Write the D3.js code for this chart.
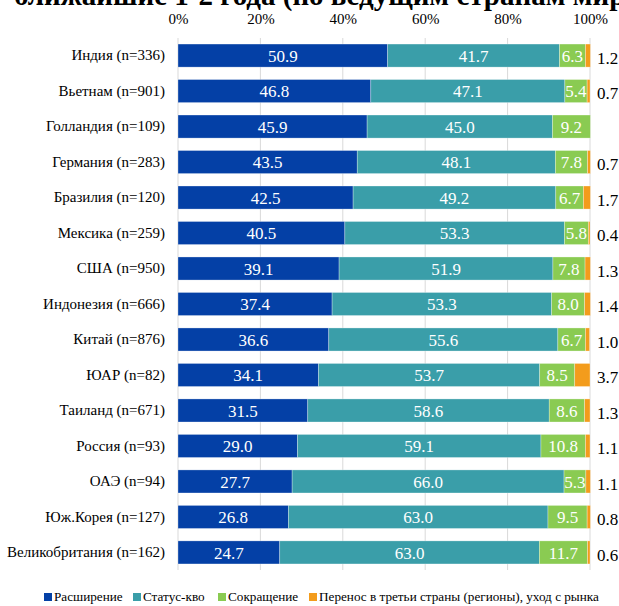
<!DOCTYPE html>
<html>
<head>
<meta charset="utf-8">
<script src="https://cdn.jsdelivr.net/npm/d3@7"></script>
<style>
  body { margin: 0; background: #fff; }
  svg { display: block; }
  svg text { font-family: "Liberation Serif", "Times New Roman", "DejaVu Serif", serif; }
</style>
</head>
<body>
<svg id="chart" width="619" height="606"></svg>
<script>
// data
var countries = ["Индия (n=336)", "Вьетнам (n=901)", "Голландия (n=109)", "Германия (n=283)",
    "Бразилия (n=120)", "Мексика (n=259)", "США (n=950)", "Индонезия (n=666)", "Китай (n=876)",
    "ЮАР (n=82)", "Таиланд (n=671)", "Россия (n=93)", "ОАЭ (n=94)", "Юж.Корея (n=127)",
    "Великобритания (n=162)"];
var expansion = [50.9, 46.8, 45.9, 43.5, 42.5, 40.5, 39.1, 37.4, 36.6, 34.1, 31.5, 29.0, 27.7, 26.8, 24.7];
var statusQuo = [41.7, 47.1, 45.0, 48.1, 49.2, 53.3, 51.9, 53.3, 55.6, 53.7, 58.6, 59.1, 66.0, 63.0, 63.0];
var reduction = [6.3, 5.4, 9.2, 7.8, 6.7, 5.8, 7.8, 8.0, 6.7, 8.5, 8.6, 10.8, 5.3, 9.5, 11.7];
var relocation = [1.2, 0.7, 0, 0.7, 1.7, 0.4, 1.3, 1.4, 1.0, 3.7, 1.3, 1.1, 1.1, 0.8, 0.6];
var seriesNames = ["Расширение", "Статус-кво", "Сокращение", "Перенос в третьи страны (регионы), уход с рынка"];
var tickValues = [0, 20, 40, 60, 80, 100];
var titleText = "ближайшие 1-2 года (по ведущим странам мира)";

var colors = ["#0440A6", "#3A9EA9", "#8ACB52", "#F39C1C"];
var serif = "'Liberation Serif', 'Times New Roman', 'DejaVu Serif', serif";

var svg = d3.select("#chart"),
    margin = {top: 38, right: 29, bottom: 36, left: 178},
    width = 619 - margin.left - margin.right,
    height = 606 - margin.top - margin.bottom,
    g = svg.append("g").attr("transform", "translate(" + margin.left + "," + margin.top + ")");

var x = d3.scaleLinear().domain([0, 100]).range([0, width]);
var y = d3.scaleBand().domain(countries).range([0, height]).paddingInner(0.35).paddingOuter(0.17);

// title (cut off at the top like the reference)
svg.append("text")
    .attr("x", 14)
    .attr("y", 5)
    .style("font-size", "29px")
    .style("font-weight", "bold")
    .attr("fill", "#000")
    .text(titleText);

// grid
g.selectAll(".grid")
    .data(tickValues)
    .enter().append("line")
    .attr("class", "grid")
    .attr("x1", function(d) { return x(d); })
    .attr("x2", function(d) { return x(d); })
    .attr("y1", 0)
    .attr("y2", height)
    .attr("stroke", "#d9d9d9")
    .attr("stroke-width", 1);

// top axis
var axis = g.append("g")
    .call(d3.axisTop(x).tickValues(tickValues).tickFormat(function(d) { return d + "%"; }).tickSize(0).tickPadding(14));
axis.attr("font-family", null);
axis.select(".domain").remove();
axis.selectAll("text")
    .style("font-family", serif)
    .style("font-size", "15px")
    .attr("fill", "#000");

// left axis
var yAxis = g.append("g")
    .call(d3.axisLeft(y).tickSize(0).tickPadding(13));
yAxis.attr("font-family", null);
yAxis.select(".domain").remove();
yAxis.selectAll("text")
    .style("font-family", serif)
    .style("font-size", "15px")
    .attr("fill", "#000");

// stacked bars
var rows = countries.map(function(c, i) {
    return {country: c, s0: expansion[i], s1: statusQuo[i], s2: reduction[i], s3: relocation[i]};
});
var stack = d3.stack().keys(["s0", "s1", "s2", "s3"]);
var layers = stack(rows);

layers.forEach(function(layer, li) {
    var lg = g.append("g").attr("fill", colors[li]);
    lg.selectAll("rect")
        .data(layer.filter(function(d) { return d[1] - d[0] > 0; }))
        .enter().append("rect")
        .attr("x", function(d) { return x(d[0]); })
        .attr("y", function(d) { return y(d.data.country); })
        .attr("width", function(d) { return x(d[1]) - x(d[0]); })
        .attr("height", y.bandwidth())
        .attr("stroke", "rgba(255,255,255,0.5)")
        .attr("stroke-width", 0.6);

    if (li < 3) {
        lg.selectAll("text")
            .data(layer)
            .enter().append("text")
            .attr("x", function(d) { return (x(d[0]) + x(d[1])) / 2; })
            .attr("y", function(d) { return y(d.data.country) + y.bandwidth() / 2; })
            .attr("dy", "0.36em")
            .attr("text-anchor", "middle")
            .style("font-size", "17px")
            .attr("fill", "#fff")
            .text(function(d) { return d3.format(".1f")(d[1] - d[0]); });
    } else {
        lg.selectAll("text")
            .data(layer.filter(function(d) { return d[1] - d[0] > 0; }))
            .enter().append("text")
            .attr("x", x(100) + 7)
            .attr("y", function(d) { return y(d.data.country) + y.bandwidth() / 2 + 2; })
            .attr("dy", "0.36em")
            .style("font-size", "17px")
            .attr("fill", "#000")
            .text(function(d) { return d3.format(".1f")(d[1] - d[0]); });
    }
});

// legend
var legendX = [44, 133, 218, 309];
var legend = svg.append("g").attr("transform", "translate(0,600)");
seriesNames.forEach(function(name, i) {
    legend.append("rect")
        .attr("x", legendX[i])
        .attr("y", -7)
        .attr("width", 8)
        .attr("height", 8)
        .attr("fill", colors[i]);
    legend.append("text")
        .attr("x", legendX[i] + 10)
        .attr("y", 0)
        .attr("dy", "0.05em")
        .style("font-size", "13.2px")
        .attr("fill", "#000")
        .text(name);
});
</script>
</body>
</html>
